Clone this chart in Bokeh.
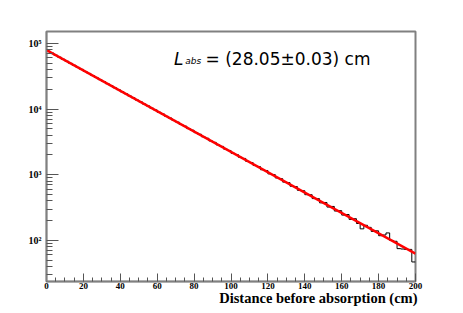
from bokeh.plotting import figure
from bokeh.models import FixedTicker, Label, Range1d, Title
from bokeh.embed import file_html
from bokeh.resources import INLINE

# ---- data ----
bin_width = 2.0  # cm
hist_counts = [
    76180, 71050, 66010, 61630, 57240, 53410, 49620, 46330, 43010, 40190,
    37290, 34850, 32330, 30240, 28020, 26210, 24290, 22740, 21060, 19710,
    18270, 17110, 15840, 14830, 13720, 12870, 11890, 11160, 10310, 9690,
    8930, 8410, 7740, 7290, 6710, 6320, 5810, 5490, 5030, 4760,
    4370, 4130, 3780, 3590, 3270, 3110, 2840, 2700, 2450, 2340,
    2120, 2030, 1840, 1770, 1590, 1530, 1380, 1330, 1190, 1160,
    1030, 1005, 893, 872, 772, 758, 668, 660, 578, 571,
    497, 496, 433, 432, 373, 378, 322, 329, 280, 284,
    243, 248, 209, 214, 181, 150, 170, 158, 137, 140,
    118, 121, 130, 100, 97, 75, 74, 73, 73, 47,
]
fit_x = [0, 200]
fit_y = [79000, 63]
x_major = [0, 20, 40, 60, 80, 100, 120, 140, 160, 180, 200]
y_major = [100, 1000, 10000, 100000]
y_major_labels = {100: "10²", 1000: "10³", 10000: "10⁴", 100000: "10⁵"}
x_title = "Distance before absorption (cm)"
fit_symbol = "L"
fit_sub = "abs"
fit_text = "= (28.05±0.03) cm"

edges = [i * bin_width for i in range(len(hist_counts) + 1)]
x_minor = [v for v in range(0, 201, 5) if v % 20 != 0]
y_minor = [m * 10 ** k for k in range(1, 6) for m in range(2, 10)]

p = figure(width=455, height=310, y_axis_type="log",
           x_range=Range1d(0, 200), y_range=Range1d(23.7, 151400),
           output_backend="svg", toolbar_location=None,
           min_border_left=46, min_border_right=40,
           min_border_top=31, min_border_bottom=29)
p.background_fill_color = "white"
p.border_fill_color = "white"
p.outline_line_color = "#808080"
p.outline_line_width = 2
p.xgrid.visible = False
p.ygrid.visible = False

p.step(x=edges, y=hist_counts + [hist_counts[-1]], mode="after",
       line_color="black", line_width=1)
p.line(fit_x, fit_y, line_color="#ff0000", line_width=2.6)

ax = p.xaxis[0]
ax.ticker = FixedTicker(ticks=x_major, minor_ticks=x_minor)
ax.major_tick_in = 8
ax.major_tick_out = 0
ax.minor_tick_in = 4
ax.minor_tick_out = 0
ax.axis_line_color = "#808080"
ax.axis_line_width = 1.5
ax.major_tick_line_color = "#555555"
ax.minor_tick_line_color = "#555555"
ax.major_label_text_font = "Liberation Serif"
ax.major_label_text_font_style = "bold"
ax.major_label_text_font_size = "9px"
ax.major_label_text_color = "black"
ax.major_label_standoff = 1

ay = p.yaxis[0]
ay.ticker = FixedTicker(ticks=y_major, minor_ticks=y_minor)
ay.major_label_overrides = y_major_labels
ay.major_tick_in = 12
ay.major_tick_out = 0
ay.minor_tick_in = 6
ay.minor_tick_out = 0
ay.axis_line_color = "#808080"
ay.axis_line_width = 1.5
ay.major_tick_line_color = "#555555"
ay.minor_tick_line_color = "#555555"
ay.major_label_text_font = "Liberation Serif"
ay.major_label_text_font_style = "bold"
ay.major_label_text_font_size = "10px"
ay.major_label_text_color = "black"
ay.major_label_standoff = 5

t = Title(text=x_title, align="right", text_font="Liberation Serif",
          text_font_style="bold", text_font_size="14.5px", text_color="black",
          standoff=-7, offset=-2)
p.add_layout(t, "below")

p.add_layout(Label(x=69.1, y=56800, text=fit_symbol, text_align="left",
                   text_baseline="alphabetic", text_font="DejaVu Sans",
                   text_font_style="italic", text_font_size="17px",
                   text_color="black"))
p.add_layout(Label(x=75.2, y=53700, text=fit_sub, text_align="left",
                   text_baseline="alphabetic", text_font="DejaVu Sans",
                   text_font_style="italic", text_font_size="9px",
                   text_color="black"))
p.add_layout(Label(x=86.2, y=56800, text=fit_text, text_align="left",
                   text_baseline="alphabetic", text_font="DejaVu Sans",
                   text_font_size="17px", text_color="black"))

open("out.html", "w").write(file_html(p, INLINE))
